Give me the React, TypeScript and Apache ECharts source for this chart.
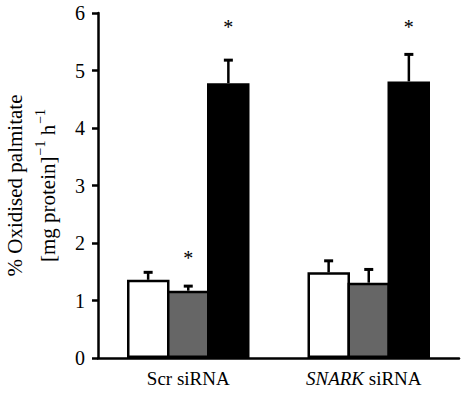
import React, { useEffect, useRef } from "react";
import * as echarts from "echarts";

const categories = ["Scr siRNA", "SNARK siRNA"];
const yTicks = [0, 1, 2, 3, 4, 5, 6];

const controlValues = [1.36, 1.49];
const controlErrors = [0.13, 0.2];
const treatAValues = [1.17, 1.31];
const treatAErrors = [0.08, 0.23];
const treatBValues = [4.78, 4.81];
const treatBErrors = [0.4, 0.47];

// significance marks (asterisk heights in axis units, 0 = none)
const controlStars = [0, 0];
const treatAStars = [1.74, 0];
const treatBStars = [5.76, 5.76];

const FONT = "Liberation Serif, Times New Roman, DejaVu Serif, serif";

export default function App() {
  const ref = useRef<HTMLDivElement>(null);

  useEffect(() => {
    if (!ref.current) return;
    const chart = echarts.init(ref.current, undefined, { renderer: "svg" });

    const groups = [
      { values: controlValues, errors: controlErrors, stars: controlStars },
      { values: treatAValues, errors: treatAErrors, stars: treatAStars },
      { values: treatBValues, errors: treatBErrors, stars: treatBStars },
    ];
    const errData: number[][] = [];
    groups.forEach((g, s) => {
      g.values.forEach((v, i) => {
        errData.push([i, v, g.errors[i], s, g.stars[i]]);
      });
    });

    const fills = ["#ffffff", "#666666", "#000000"];
    const BORDER = 2.5;

    chart.setOption({
      animation: false,
      backgroundColor: "#ffffff",
      textStyle: { fontFamily: FONT },
      grid: {
        left: 98,
        right: 3,
        top: 13,
        bottom: 37,
        containLabel: false,
        outerBoundsMode: "none",
      },
      xAxis: {
        type: "category",
        data: categories,
        axisLine: { show: true, lineStyle: { color: "#000", width: 2.5 } },
        axisTick: { show: false },
        axisLabel: {
          interval: 0,
          hideOverlap: false,
          margin: 11,
          color: "#000",
          fontFamily: FONT,
          fontSize: 19,
          formatter: (v: string) =>
            v.startsWith("SNARK") ? "{i|SNARK}{n| siRNA}{p|}" : "{n|" + v + "}",
          rich: {
            i: { fontStyle: "italic", fontFamily: FONT, fontSize: 19, color: "#000" },
            n: { fontFamily: FONT, fontSize: 19, color: "#000" },
            p: { width: 10 },
          },
        },
      },
      yAxis: {
        type: "value",
        min: yTicks[0],
        max: yTicks[yTicks.length - 1],
        interval: 1,
        splitLine: { show: false },
        axisLine: { show: true, lineStyle: { color: "#000", width: 2.5 } },
        axisTick: { show: true, inside: false, length: 6, lineStyle: { color: "#000", width: 2.5 } },
        axisLabel: {
          margin: 13,
          color: "#000",
          fontFamily: FONT,
          fontSize: 20,
          formatter: (v: number) => "{t|" + v + "}",
          rich: { t: { fontFamily: FONT, fontSize: 20, color: "#000" } },
        },
        name: "{a|% Oxidised palmitate}\n{a|[mg protein]}{s|−1}{a| h}{s|−1}",
        nameLocation: "middle",
        nameRotate: 90,
        nameGap: 33,
        nameTextStyle: {
          color: "#000",
          fontFamily: FONT,
          fontSize: 21,
          lineHeight: 33,
          rich: {
            a: { fontFamily: FONT, fontSize: 21, color: "#000", lineHeight: 33 },
            s: {
              fontFamily: FONT,
              fontSize: 14,
              color: "#000",
              lineHeight: 33,
              verticalAlign: "top",
              padding: [2, 0, 0, 1],
            },
          },
        },
      },
      series: [
        ...groups.map((g, s) => ({
          type: "bar",
          data: g.values,
          barWidth: 40 + BORDER,
          barGap: (-BORDER / (40 + BORDER)) * 100 + "%",
          itemStyle: { color: fills[s], borderColor: "#000", borderWidth: BORDER },
          z: 2,
        })),
        {
          type: "custom",
          z: 5,
          data: errData,
          encode: { x: 0, y: 1 },
          renderItem: (params: any, api: any) => {
            const cat = api.value(0);
            const val = api.value(1);
            const err = api.value(2);
            const s = api.value(3);
            const star = api.value(4);
            const band = api.size([1, 0])[0];
            const bw = (band * (2 / 3)) / 3;
            const cx = api.coord([cat, 0])[0] + (s - 1) * bw;
            const yv = api.coord([cat, val])[1];
            const ye = api.coord([cat, val + err])[1];
            const children: any[] = [
              {
                type: "line",
                shape: { x1: cx, y1: yv, x2: cx, y2: ye },
                style: { stroke: "#000", lineWidth: 2.5 },
              },
              {
                type: "rect",
                shape: { x: cx - 4.5, y: ye - 1.5, width: 9, height: 3 },
                style: { fill: "#000" },
              },
            ];
            if (star > 0) {
              children.push({
                type: "text",
                x: cx,
                y: api.coord([cat, star])[1],
                style: {
                  text: "*",
                  fontFamily: FONT,
                  fontSize: 20,
                  fill: "#000",
                  align: "center",
                  verticalAlign: "middle",
                },
              });
            }
            return { type: "group", children };
          },
        },
      ],
    });

    return () => chart.dispose();
  }, []);

  return (
    <div
      ref={ref}
      style={{ position: "fixed", left: 0, top: 0, width: 462, height: 395, background: "#fff" }}
    />
  );
}
